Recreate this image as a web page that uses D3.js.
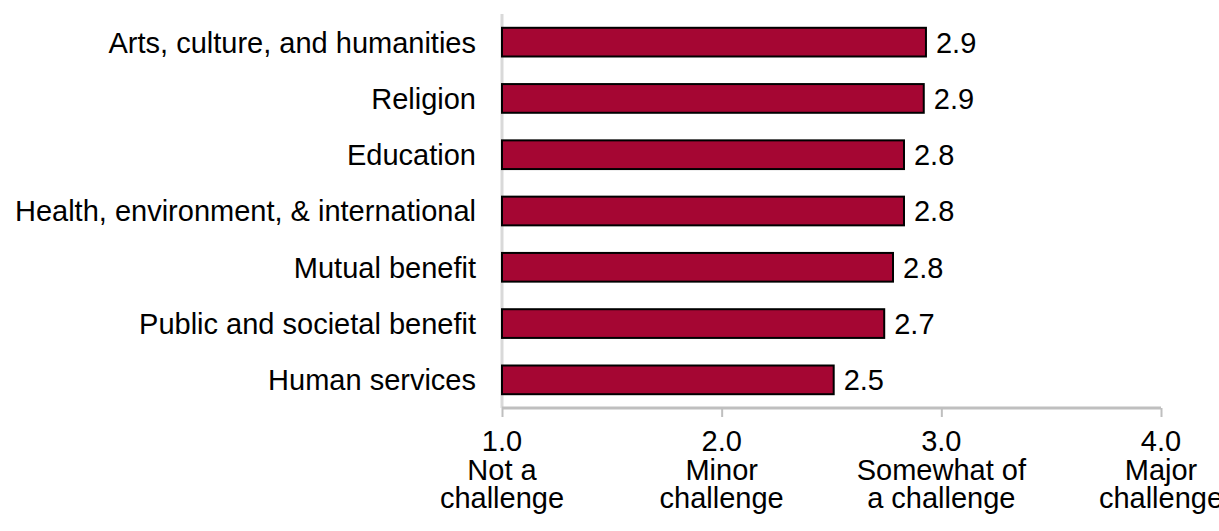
<!DOCTYPE html>
<html lang="en">
<head>
  <meta charset="UTF-8">
  <title>Challenge ratings by subsector</title>
  <style>
    body { margin: 0; background: #fff; }
    svg { display: block; font-family: "Liberation Sans", Arial, sans-serif; }
  </style>
</head>
<body>
  <svg></svg>
  <script src="https://d3js.org/d3.v7.min.js"></script>
  <script>
    var categories = ["Arts, culture, and humanities", "Religion", "Education",
      "Health, environment, & international", "Mutual benefit",
      "Public and societal benefit", "Human services"];
    var values = [2.93, 2.92, 2.83, 2.83, 2.78, 2.74, 2.51];
    var tickValues = [1, 2, 3, 4];
    var tickNames = [["Not a", "challenge"], ["Minor", "challenge"],
      ["Somewhat of", "a challenge"], ["Major", "challenge"]];

    var width = 1219;
    var height = 531;
    var axisY = 408;

    var svg = d3.select("svg")
        .attr("width", width)
        .attr("height", height);

    var xScale = d3.scaleLinear()
                   .domain([1, 4])
                   .range([502, 1161]);

    var yScale = d3.scaleBand()
                   .domain(categories)
                   .range([14, axisY])
                   .paddingInner(0.49)
                   .paddingOuter(0.245);

    // vertical category axis line
    svg.append("line")
        .attr("x1", xScale(1)).attr("x2", xScale(1))
        .attr("y1", 14).attr("y2", axisY)
        .attr("stroke", "#d9d9d9")
        .attr("stroke-width", 3);

    // bars
    svg.selectAll("rect.bar")
      .data(values)
      .enter()
      .append("rect")
        .attr("class", "bar")
        .attr("x", xScale(1))
        .attr("y", (d, i) => yScale(categories[i]))
        .attr("width", d => xScale(d) - xScale(1))
        .attr("height", yScale.bandwidth())
        .attr("fill", "#a50633")
        .attr("stroke", "#000")
        .attr("stroke-width", 2);

    // value labels
    svg.selectAll("text.val")
      .data(values)
      .enter()
      .append("text")
        .attr("class", "val")
        .attr("x", d => xScale(d) + 10)
        .attr("y", (d, i) => yScale(categories[i]) + yScale.bandwidth() / 2)
        .attr("dy", "0.36em")
        .attr("font-size", 29)
        .attr("fill", "#000")
        .text(d => d3.format(".1f")(d));

    // category labels
    svg.selectAll("text.cat")
      .data(categories)
      .enter()
      .append("text")
        .attr("class", "cat")
        .attr("x", 476)
        .attr("y", d => yScale(d) + yScale.bandwidth() / 2)
        .attr("dy", "0.36em")
        .attr("text-anchor", "end")
        .attr("font-size", 29)
        .attr("fill", "#000")
        .text(d => d);

    // x axis
    var xAxis = d3.axisBottom(xScale)
        .tickValues(tickValues)
        .tickSize(9)
        .tickFormat("");

    var gx = svg.append("g")
        .attr("transform", "translate(0," + axisY + ")")
        .call(xAxis);
    gx.select(".domain").attr("stroke", "#bfbfbf").attr("stroke-width", 3)
      .attr("d", "M" + xScale(1) + ",0H" + xScale(4));
    gx.selectAll(".tick line").attr("stroke", "#bfbfbf").attr("stroke-width", 2);

    var tl = svg.selectAll("text.tick")
      .data(tickValues)
      .enter()
      .append("text")
        .attr("class", "tick")
        .attr("text-anchor", "middle")
        .attr("font-size", 29)
        .attr("fill", "#000");

    tl.append("tspan")
        .attr("x", d => xScale(d))
        .attr("y", 451)
        .text(d => d3.format(".1f")(d));
    tl.append("tspan")
        .attr("x", d => xScale(d))
        .attr("y", 480)
        .text((d, i) => tickNames[i][0]);
    tl.append("tspan")
        .attr("x", d => xScale(d))
        .attr("y", 508)
        .text((d, i) => tickNames[i][1]);
  </script>
</body>
</html>
